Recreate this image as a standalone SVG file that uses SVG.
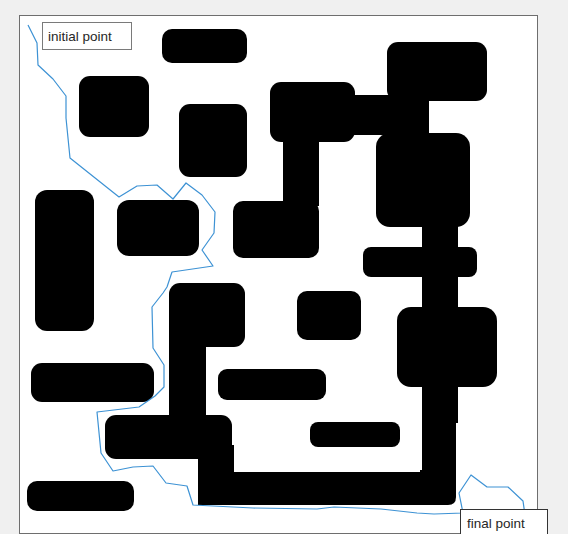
<svg xmlns="http://www.w3.org/2000/svg" width="568" height="534" viewBox="0 0 568 534">
<style>
.ob{fill:#000;stroke:none}
.lbl{fill:#fff;stroke:#7a7a7a;stroke-width:1}
.lbl2{fill:#fff;stroke:#333;stroke-width:1}
.t{font-family:"Liberation Sans",Arial,sans-serif;font-size:13.5px;fill:#262626}
.path{fill:none;stroke:#3d92d4;stroke-width:1.2;stroke-linejoin:round}
</style>
<rect x="0" y="0" width="568" height="534" fill="#f0f0f0"/>
<rect x="19.5" y="15.5" width="518" height="518" fill="#fff" stroke="#6e6e6e" stroke-width="1"/>
<g id="obstacles">
<g id="obsA"><rect class="ob" x="162" y="29" width="85" height="34" rx="10"/></g>
<g id="obsB"><rect class="ob" x="79" y="76" width="70" height="61" rx="11"/></g>
<g id="obsC"><rect class="ob" x="179" y="104" width="68" height="73" rx="11"/></g>
<g id="obsD"><rect class="ob" x="270" y="82" width="85" height="60" rx="11"/><rect class="ob" x="350" y="95" width="40" height="40"/><rect class="ob" x="283" y="138" width="36" height="68"/></g>
<g id="obsE"><rect class="ob" x="387" y="42" width="100" height="59" rx="11"/><rect class="ob" x="387" y="95" width="42" height="42"/></g>
<g id="obsF"><rect class="ob" x="376" y="133" width="94" height="94" rx="14"/><rect class="ob" x="422" y="220" width="36" height="203"/><rect class="ob" x="422" y="420" width="34" height="75"/></g>
<g id="obsG"><rect class="ob" x="363" y="247" width="114" height="30" rx="8"/></g>
<g id="obsH"><rect class="ob" x="397" y="307" width="100" height="80" rx="14"/></g>
<g id="obsI"><rect class="ob" x="297" y="291" width="64" height="49" rx="10"/></g>
<g id="obsJ"><rect class="ob" x="233" y="201" width="86" height="57" rx="10"/></g>
<g id="obsK"><rect class="ob" x="117" y="200" width="82" height="56" rx="12"/></g>
<g id="obsL"><rect class="ob" x="35" y="190" width="59" height="141" rx="12"/></g>
<g id="obsM"><rect class="ob" x="169" y="283" width="76" height="64" rx="11"/><rect class="ob" x="169" y="330" width="37" height="90"/></g>
<g id="obsN"><rect class="ob" x="31" y="363" width="123" height="39" rx="11"/></g>
<g id="obsO"><rect class="ob" x="218" y="369" width="108" height="31" rx="9"/></g>
<g id="obsP"><rect class="ob" x="310" y="422" width="90" height="25" rx="8"/></g>
<g id="obsQ"><rect class="ob" x="105" y="415" width="127" height="44" rx="11"/><rect class="ob" x="198" y="445" width="36" height="60"/></g>
<g id="obsR"><rect class="ob" x="198" y="472" width="240" height="33"/><path class="ob" d="M420 470 H456 V497 Q456 505 448 505 H420 Z"/></g>
<g id="obsS"><rect class="ob" x="27" y="481" width="107" height="30" rx="10"/></g>
</g>
<g id="connectors">
<polyline class="path" points="28,25 37,43 38,65 53,79 66,96 66,118 70,158 119,197 137,186 157,185 173,199 186,183 202,195 215,212 214,233 202,250 213,266 172,272 167,287 163,293 152,307 153,348 164,365 164,387 155,396 139,407 97,412 101,453 113,471 133,467 153,466 166,483 187,486 193,505 253,508 317,509 334,507 381,509 417,513 434,514 463,513 459,493 471,475 487,487 508,487 523,501 526,522"/>
</g>
<g id="label-initial"><rect class="lbl" x="42.5" y="22.5" width="89" height="27"/><text class="t" x="48" y="41">initial point</text></g>
<g id="label-final"><rect class="lbl2" x="460.5" y="509.5" width="87" height="30"/><text class="t" x="467" y="528">final point</text></g>
</svg>
